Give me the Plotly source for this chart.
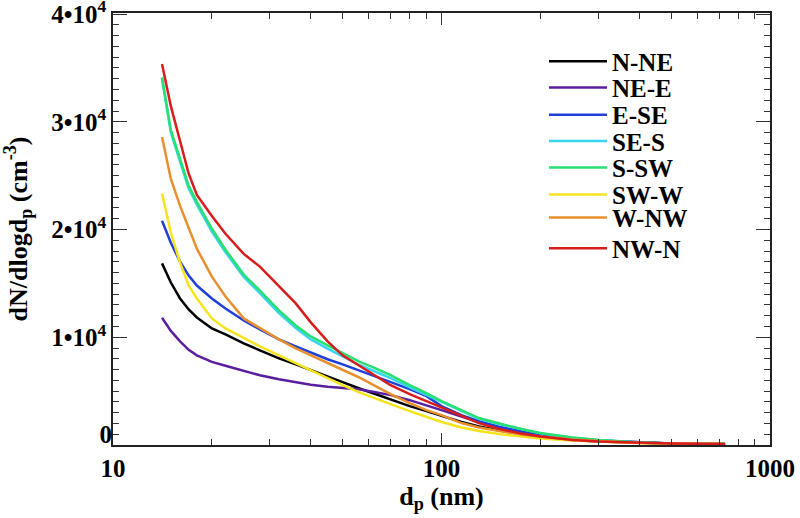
import plotly.graph_objects as go

# Particle diameter (nm)
dp = [14.1, 15, 16, 17, 18, 20, 22, 25, 28, 32, 36, 40, 45, 50, 56, 63, 70, 80, 90,
      100, 115, 130, 150, 175, 200, 250, 300, 400, 500, 730]

n_ne = [16860, 15080, 13600, 12580, 11840, 10820, 10270, 9440, 8790, 8050, 7490, 6940, 6380, 5830,
        5270, 4720, 4255, 3610, 3145, 2680, 2130, 1710, 1340, 1018, 786, 463, 324, 185, 139, 90]
ne_e = [11810, 10590, 9620, 8830, 8325, 7720, 7350, 6850, 6475, 6110, 5830, 5600, 5410, 5320,
        5180, 4900, 4630, 4160, 3700, 3240, 2640, 2130, 1665, 1250, 971, 600, 416, 231, 139, 90]
e_se = [20810, 18780, 17020, 15730, 14800, 13600, 12670, 11560, 10730, 9800, 9160, 8600, 7960, 7490,
        6940, 6380, 5830, 5180, 4530, 3610, 2775, 2220, 1665, 1250, 971, 600, 416, 231, 139, 90]
se_s = [34000, 29000, 26300, 23800, 22300, 19800, 17900, 15600, 14100, 12250, 10850, 9800, 8950, 8200,
        7450, 6800, 6200, 5350, 4650, 3950, 3150, 2430, 1930, 1440, 1080, 680, 455, 230, 139, 90]
s_sw = [34130, 29230, 26550, 24050, 22570, 20070, 18130, 15820, 14340, 12490, 11100, 10080, 9250, 8510,
        7770, 7120, 6475, 5550, 4810, 4070, 3240, 2500, 1990, 1480, 1110, 694, 463, 231, 139, 90]
sw_w = [23340, 19700, 16930, 14800, 13600, 11750, 10820, 9900, 9160, 8330, 7590, 6940, 6200, 5550,
        4900, 4350, 3790, 3145, 2590, 2130, 1620, 1295, 1018, 786, 600, 416, 324, 185, 139, 90]
w_nw = [28580, 24700, 22200, 20070, 18220, 15630, 13780, 11750, 10820, 9800, 8970, 8330, 7590, 6940,
        6290, 5460, 4720, 3890, 3240, 2775, 2035, 1620, 1295, 971, 786, 509, 370, 185, 139, 90]
nw_n = [35370, 31450, 28215, 25180, 23220, 21250, 19610, 17740, 16560, 14710, 13140, 11380, 9620, 8325,
        7400, 6380, 5550, 4720, 4070, 3515, 2680, 2035, 1480, 1064, 786, 460, 320, 185, 140, 90]

names = ["N-NE", "NE-E", "E-SE", "SE-S", "S-SW", "SW-W", "W-NW", "NW-N"]
series = [n_ne, ne_e, e_se, se_s, s_sw, sw_w, w_nw, nw_n]
colors = ["#000000", "#5a1f9e", "#1f3fd6", "#38d4f0", "#28e070", "#f5e41d", "#e8902e", "#d81c1c"]

y_tickvals = [10000, 20000, 30000, 40000]
y_ticktext = ["1•10<sup>4</sup>", "2•10<sup>4</sup>", "3•10<sup>4</sup>", "4•10<sup>4</sup>"]
x_tickvals = [10, 100, 1000]
x_ticktext = ["10", "100", "1000"]

FONT = "Liberation Serif"
# legend entry vertical centres (paper coords)
leg_y = [0.888, 0.827, 0.764, 0.703, 0.642, 0.579, 0.526, 0.455]

fig = go.Figure()
for i, (nm, s, c) in enumerate(zip(names, series, colors)):
    lg = "legend" if i == 0 else f"legend{i+1}"
    fig.add_trace(go.Scatter(x=dp, y=s, mode="lines", name=nm,
                             line=dict(color=c, width=2.5), legend=lg))

# invisible helper trace for the "0" label axis
fig.add_trace(go.Scatter(x=[dp[0]], y=[0], yaxis="y2", mode="markers",
                         marker=dict(opacity=0), showlegend=False, hoverinfo="skip"))

axis_common = dict(showline=True, linecolor="#222222", linewidth=1.5, mirror="ticks",
                   ticks="inside", tickcolor="#333333", tickwidth=1.2, showgrid=False,
                   zeroline=False, automargin=False, ticklabeloverflow="allow",
                   tickfont=dict(family=FONT, size=25, color="black", weight="bold"))

fig.update_layout(
    width=800, height=518,
    margin=dict(l=113, r=30, t=13, b=73),
    plot_bgcolor="white", paper_bgcolor="white",
    xaxis=dict(type="log", range=[1, 3], tickmode="array", tickvals=x_tickvals, ticktext=x_ticktext,
               ticklen=12,
               minor=dict(ticks="inside", ticklen=6, dtick="D1", tickcolor="#333333", showgrid=False),
               title=dict(text="d<sub>p</sub> (nm)", font=dict(family=FONT, size=26, color="black", weight="bold"),
                          standoff=0),
               **axis_common),
    yaxis=dict(range=[0, 40100], tickmode="array", tickvals=y_tickvals, ticktext=y_ticktext,
               ticklen=14,
               minor=dict(ticks="inside", ticklen=6, tick0=0, dtick=1000, tickcolor="#333333", showgrid=False),
               title=dict(text="dN/dlogd<sub>p</sub> (cm<sup>-3</sup>)",
                          font=dict(family=FONT, size=26, color="black", weight="bold"), standoff=18),
               **axis_common),
    yaxis2=dict(range=[0, 40100], overlaying="y", side="left", tickmode="array", tickvals=[1000],
                ticktext=["0"], ticks="", showline=False, showgrid=False, zeroline=False, automargin=False,
                tickfont=dict(family=FONT, size=25, color="black", weight="bold")),
)

for i in range(8):
    key = "legend" if i == 0 else f"legend{i+1}"
    fig.update_layout({key: dict(x=0.656, y=leg_y[i], xanchor="left", yanchor="middle",
                                 bgcolor="rgba(0,0,0,0)", itemwidth=58,
                                 font=dict(family=FONT, size=25, color="black", weight="bold"))})

fig.write_html("out.html", config={"displayModeBar": False},
               post_script="document.body.style.margin='0px';")
